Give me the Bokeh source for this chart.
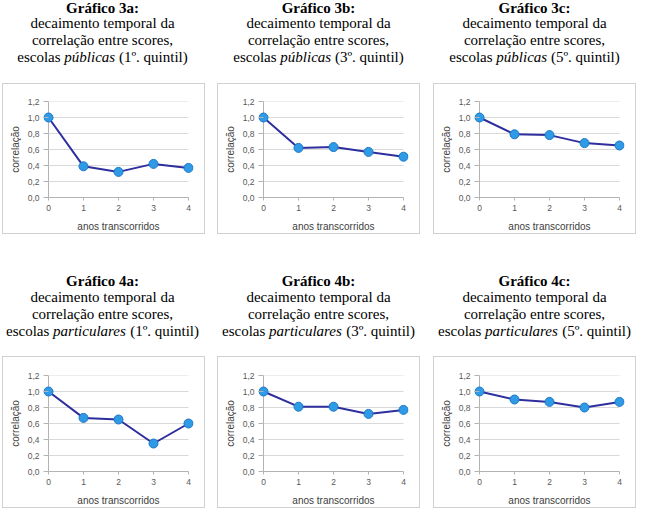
from bokeh.plotting import figure
from bokeh.layouts import column, row, Spacer
from bokeh.models import Range1d, FixedTicker, Span
from bokeh.core.properties import value
from bokeh.embed import file_html
from bokeh.resources import INLINE

# ---------------- data ----------------
anos = [0, 1, 2, 3, 4]
corr_3a = [1.00, 0.39, 0.32, 0.42, 0.37]
corr_3b = [1.00, 0.62, 0.63, 0.57, 0.51]
corr_3c = [1.00, 0.79, 0.78, 0.68, 0.65]
corr_4a = [1.00, 0.67, 0.65, 0.35, 0.60]
corr_4b = [1.00, 0.81, 0.81, 0.72, 0.77]
corr_4c = [1.00, 0.90, 0.87, 0.80, 0.87]

y_ticks = [0.0, 0.2, 0.4, 0.6, 0.8, 1.0, 1.2]
y_tick_labels = ["0,0", "0,2", "0,4", "0,6", "0,8", "1,0", "1,2"]
x_ticks = [0, 1, 2, 3, 4]
x_tick_labels = ["0", "1", "2", "3", "4"]

graficos = ["Gráfico 3a:", "Gráfico 3b:", "Gráfico 3c:",
            "Gráfico 4a:", "Gráfico 4b:", "Gráfico 4c:"]
linha2 = "decaimento temporal da"
linha3 = "correlação entre scores,"
prefixo = "escolas"
tipos = ["públicas", "públicas", "públicas",
         "particulares", "particulares", "particulares"]
quintis = ["(1º. quintil)", "(3º. quintil)", "(5º. quintil)",
           "(1º. quintil)", "(3º. quintil)", "(5º. quintil)"]
series = [corr_3a, corr_3b, corr_3c, corr_4a, corr_4b, corr_4c]

x_label = "anos transcorridos"
y_label = "correlação"

# ---------------- style ----------------
SERIF = "Liberation Serif"
SANS = "Liberation Sans"
GRID = "#d9d9d9"
AXIS = "#b3b3b3"
BOX = "#d0d0d0"
LINE = "#2e2e9e"
MFILL = "#2f9ae6"
MLINE = "#1d78c6"

ROMAN = {' ': 250, '(': 333, ')': 333, '.': 250, ',': 250, ':': 278, 'º': 310,
         'a': 444, 'b': 500, 'c': 444, 'd': 500, 'e': 444, 'i': 278, 'l': 278,
         'm': 778, 'n': 500, 'o': 500, 'p': 500, 'q': 500, 'r': 333, 's': 389,
         't': 278, 'u': 500, 'ú': 500}
ITALIC = {'a': 500, 'b': 500, 'c': 444, 'e': 444, 'i': 278, 'l': 278, 'p': 500,
          'r': 389, 's': 389, 't': 278, 'u': 500, 'ú': 500}
FS = 15


def width(s, table):
    return sum(table.get(ch, 500) for ch in s) * FS / 1000.0


def title_fig(idxs, H, baselines):
    figs = []
    for i in idxs:
        p = figure(width=216, height=H, x_range=Range1d(0, 216), y_range=Range1d(H, 0),
                   x_axis_type=None, y_axis_type=None, min_border=0,
                   toolbar_location=None, output_backend="svg")
        p.outline_line_color = None
        p.grid.visible = False
        cx = 102
        common = dict(text_font=value(SERIF), text_font_size=f"{FS}px",
                      text_baseline="alphabetic", text_color="black")
        p.text(x=[cx], y=[baselines[0]], text=[graficos[i]], text_align="center",
               text_font_style="bold", **common)
        p.text(x=[cx, cx], y=[baselines[1], baselines[2]], text=[linha2, linha3],
               text_align="center", **common)
        sp = width(" ", ROMAN)
        wa, wb, wc = width(prefixo, ROMAN), width(tipos[i], ITALIC), width(quintis[i], ROMAN)
        x0 = cx - (wa + sp + wb + sp + wc) / 2
        p.text(x=[x0], y=[baselines[3]], text=[prefixo], text_align="left", **common)
        p.text(x=[x0 + wa + sp], y=[baselines[3]], text=[tipos[i]], text_align="left",
               text_font_style="italic", **common)
        p.text(x=[x0 + wa + sp + wb + sp], y=[baselines[3]], text=[quintis[i]],
               text_align="left", **common)
        figs.append(p)
    return figs


def chart(ys, height, top):
    ext = 5 / 35.0
    p = figure(width=203, height=height,
               x_range=Range1d(x_ticks[0] - ext, x_ticks[-1] + ext),
               y_range=Range1d(y_ticks[0], y_ticks[-1]),
               min_border_left=40, min_border_right=13,
               min_border_top=top, min_border_bottom=height - top - 96,
               toolbar_location=None, output_backend="svg")
    p.styles = {"border": f"1px solid {BOX}"}
    p.outline_line_color = None
    p.xgrid.visible = False
    p.ygrid.visible = False

    n = len(y_ticks) - 1
    p.segment(x0=[x_ticks[0]] * n, x1=[x_ticks[-1]] * n, y0=y_ticks[1:], y1=y_ticks[1:],
              line_color=GRID, line_width=1)
    sp = Span(location=x_ticks[0], dimension="height", line_color=AXIS, line_width=1,
              level="underlay")
    p.add_layout(sp)

    xa = p.xaxis[0]
    xa.ticker = FixedTicker(ticks=x_ticks)
    xa.major_label_overrides = dict(zip(x_ticks, x_tick_labels))
    xa.bounds = (x_ticks[0], x_ticks[-1])
    xa.axis_line_color = AXIS
    xa.major_tick_line_color = AXIS
    xa.major_tick_out = 3
    xa.major_tick_in = 0
    xa.minor_tick_line_color = None
    xa.major_label_standoff = 4
    xa.axis_label = x_label
    xa.axis_label_standoff = 7

    ya = p.yaxis[0]
    ya.ticker = FixedTicker(ticks=y_ticks)
    ya.major_label_overrides = dict(zip(y_ticks, y_tick_labels))
    ya.axis_line_color = None
    ya.major_tick_line_color = AXIS
    ya.major_tick_out = 0
    ya.major_tick_in = 5
    ya.minor_tick_line_color = None
    ya.major_label_standoff = 4
    ya.axis_label = y_label
    ya.axis_label_standoff = 4

    for ax in (xa, ya):
        ax.major_label_text_font = SANS
        ax.major_label_text_font_size = "8.5px"
        ax.major_label_text_color = "#595959"
        ax.axis_label_text_font = SANS
        ax.axis_label_text_font_size = "10px"
        ax.axis_label_text_font_style = "normal"
        ax.axis_label_text_color = "#404040"

    p.line(anos, ys, line_color=LINE, line_width=2)
    p.scatter(anos, ys, size=9, fill_color=MFILL, line_color=MLINE, line_width=1)
    return p


t1 = title_fig([0, 1, 2], 83, [7.0, 22.7, 39.6, 56.3])
c1 = [chart(series[i], 151, 17) for i in range(3)]
t2 = title_fig([3, 4, 5], 122, [46.0, 62.7, 79.4, 96.1])
c2 = [chart(series[i], 152, 18) for i in range(3, 6)]


def chart_row(cs):
    return row(Spacer(width=2), cs[0], Spacer(width=12), cs[1], Spacer(width=13), cs[2],
               Spacer(width=6))


layout = column(row(*t1), chart_row(c1), row(*t2), chart_row(c2))

open("out.html", "w").write(file_html(layout, INLINE))
